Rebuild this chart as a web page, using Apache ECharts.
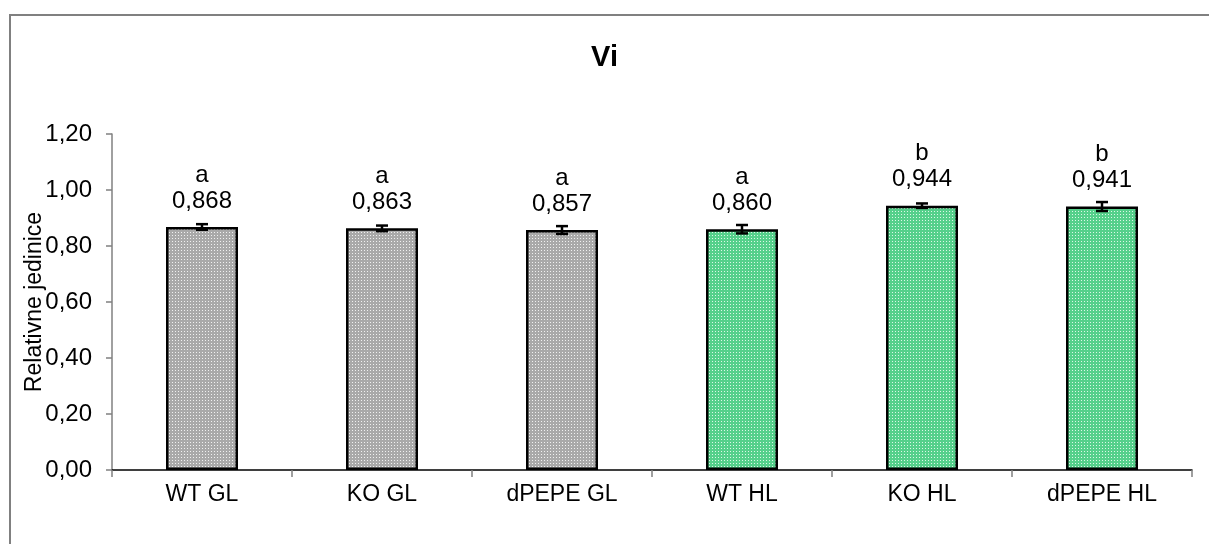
<!DOCTYPE html>
<html><head><meta charset="utf-8">
<script src="https://cdn.jsdelivr.net/npm/echarts@6/dist/echarts.min.js"></script>
<style>html,body{margin:0;padding:0;background:#fff}#c{width:1209px;height:544px}</style>
</head><body><div id="c"></div>
<script>
const categories = ['WT GL', 'KO GL', 'dPEPE GL', 'WT HL', 'KO HL', 'dPEPE HL'];
const values = [0.868, 0.863, 0.857, 0.860, 0.944, 0.941];
const errors = [0.010, 0.010, 0.014, 0.015, 0.008, 0.016];
const letters = ['a', 'a', 'a', 'a', 'b', 'b'];
const groups = ['GL', 'GL', 'GL', 'HL', 'HL', 'HL'];

function pattern(base, dot) {
  const c = document.createElement('canvas');
  c.width = 3; c.height = 3;
  const g = c.getContext('2d');
  g.fillStyle = base; g.fillRect(0, 0, 3, 3);
  g.fillStyle = dot; g.fillRect(1, 1, 1, 1);
  return c;
}
const grayPat = { image: pattern('#a9a9a9', '#f0f0f0'), repeat: 'repeat' };
const greenPat = { image: pattern('#55d08b', '#dcf7e7'), repeat: 'repeat' };

const font = 'Liberation Sans, Arial, sans-serif';
const chart = echarts.init(document.getElementById('c'));
chart.setOption({
  animation: false,
  title: { text: 'Vi', left: 'center', top: 38, textStyle: { fontFamily: font, fontSize: 29, fontWeight: 'bold', color: '#000' } },
  graphic: [{ type: 'rect', shape: { x: 10, y: 15, width: 1400, height: 800 }, style: { fill: 'none', stroke: '#808080', lineWidth: 2 }, silent: true }],
  grid: { left: 112, right: 17, top: 134, bottom: 74 },
  xAxis: {
    type: 'category', data: categories,
    axisLine: { lineStyle: { color: '#000', width: 1.5 } },
    axisTick: { show: true, alignWithLabel: false, length: 7, lineStyle: { color: '#808080', width: 1.5 } },
    axisLabel: { fontFamily: font, fontSize: 23, color: '#000', margin: 13 }
  },
  yAxis: {
    type: 'value', min: 0, max: 1.2, interval: 0.2,
    name: 'Relativne jedinice', nameLocation: 'middle', nameGap: 66, nameMoveOverlap: false,
    nameTextStyle: { fontFamily: font, fontSize: 23, color: '#000' },
    axisLine: { show: true, lineStyle: { color: '#808080', width: 1.5 } },
    axisTick: { show: true, inside: false, length: 6, lineStyle: { color: '#808080', width: 1.5 } },
    splitLine: { show: false },
    axisLabel: { fontFamily: font, fontSize: 24, color: '#000', margin: 20, formatter: v => v.toFixed(2).replace('.', ',') }
  },
  series: [{
    type: 'bar', barWidth: '40%',
    data: values.map((v, i) => ({ value: v, itemStyle: { color: groups[i] === 'GL' ? grayPat : greenPat } })),
    itemStyle: { borderColor: '#000', borderWidth: 2.5 },
    label: {
      show: true, position: 'top', distance: 13,
      formatter: p => letters[p.dataIndex] + '\n' + values[p.dataIndex].toFixed(3).replace('.', ','),
      fontFamily: font, fontSize: 24, color: '#000', lineHeight: 26
    },
    z: 2
  }, {
    type: 'custom',
    data: values.map((v, i) => [i, v, errors[i]]),
    renderItem: function (params, api) {
      const i = api.value(0), v = api.value(1), e = api.value(2);
      const top = api.coord([i, v + e]);
      const bot = api.coord([i, v - e]);
      const hw = 6;
      const st = { stroke: '#000', lineWidth: 2.5 };
      return { type: 'group', children: [
        { type: 'line', shape: { x1: top[0], y1: top[1], x2: bot[0], y2: bot[1] }, style: st },
        { type: 'line', shape: { x1: top[0] - hw, y1: top[1], x2: top[0] + hw, y2: top[1] }, style: st },
        { type: 'line', shape: { x1: bot[0] - hw, y1: bot[1], x2: bot[0] + hw, y2: bot[1] }, style: st }
      ]};
    },
    z: 5
  }]
});
</script></body></html>
